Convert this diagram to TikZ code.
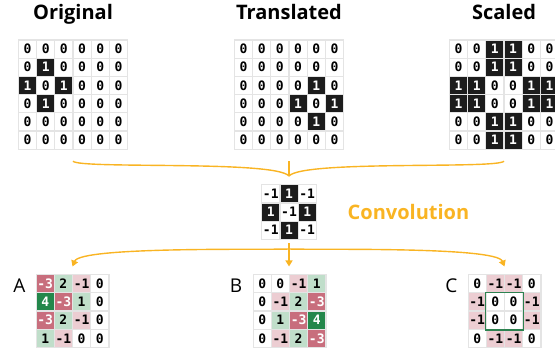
\documentclass[tikz,border=0pt]{standalone}
\usepackage{fontspec}
\setmainfont{Open Sans}
\newfontfamily\digitfont{DejaVu Sans Mono}
\usepackage{tikz}
\usetikzlibrary{matrix,positioning,arrows.meta}
\usepackage{xcolor}
\definecolor{gridgray}{RGB}{228,228,228}
\definecolor{cellblack}{RGB}{28,28,28}
\definecolor{convorange}{RGB}{249,180,35}
\definecolor{negdark}{RGB}{200,110,125}
\definecolor{neglight}{RGB}{236,205,210}
\definecolor{poslight}{RGB}{192,222,202}
\definecolor{posdark}{RGB}{35,135,75}
\definecolor{boxgreen}{RGB}{45,130,80}

\begin{document}
\begin{tikzpicture}[x=1pt,y=-1pt,
    grid/.style={matrix of nodes,ampersand replacement=\&,
      column sep=-1.2pt,row sep=-1.2pt,
      nodes={draw=gridgray,line width=1.2pt,minimum size=18.2pt,inner sep=0pt,
        font=\digitfont\bfseries\fontsize{13}{13}\selectfont,anchor=center}},
    on/.style={fill=cellblack,text=white},
    nd/.style={fill=negdark,text=white},
    nl/.style={fill=neglight},
    pl/.style={fill=poslight},
    pd/.style={fill=posdark,text=white},
    title/.style={font=\bfseries\fontsize{20}{24}\selectfont,inner sep=0pt},
    letter/.style={font=\fontsize{19}{22}\selectfont,inner sep=0pt},
    flow/.style={draw=convorange,line width=1.4pt},
    flowarrow/.style={flow,-{Triangle[length=6pt,width=7pt]}}]
  \useasboundingbox (0,0) rectangle (555,351);

  % inputs
  \matrix (orig) [grid] at (73,94.5) {
    0 \& 0 \& 0 \& 0 \& 0 \& 0 \\
    0 \& |[on]| 1 \& 0 \& 0 \& 0 \& 0 \\
    |[on]| 1 \& 0 \& |[on]| 1 \& 0 \& 0 \& 0 \\
    0 \& |[on]| 1 \& 0 \& 0 \& 0 \& 0 \\
    0 \& 0 \& 0 \& 0 \& 0 \& 0 \\
    0 \& 0 \& 0 \& 0 \& 0 \& 0 \\
  };
  \matrix (trans) [grid] at (289,94.5) {
    0 \& 0 \& 0 \& 0 \& 0 \& 0 \\
    0 \& 0 \& 0 \& 0 \& 0 \& 0 \\
    0 \& 0 \& 0 \& 0 \& |[on]| 1 \& 0 \\
    0 \& 0 \& 0 \& |[on]| 1 \& 0 \& |[on]| 1 \\
    0 \& 0 \& 0 \& 0 \& |[on]| 1 \& 0 \\
    0 \& 0 \& 0 \& 0 \& 0 \& 0 \\
  };
  \matrix (scal) [grid] at (504,94.5) {
    0 \& 0 \& |[on]| 1 \& |[on]| 1 \& 0 \& 0 \\
    0 \& 0 \& |[on]| 1 \& |[on]| 1 \& 0 \& 0 \\
    |[on]| 1 \& |[on]| 1 \& 0 \& 0 \& |[on]| 1 \& |[on]| 1 \\
    |[on]| 1 \& |[on]| 1 \& 0 \& 0 \& |[on]| 1 \& |[on]| 1 \\
    0 \& 0 \& |[on]| 1 \& |[on]| 1 \& 0 \& 0 \\
    0 \& 0 \& |[on]| 1 \& |[on]| 1 \& 0 \& 0 \\
  };
  \node[title,above=16pt of orig,anchor=base] {Original};
  \node[title,above=16pt of trans,anchor=base] {Translated};
  \node[title,above=16pt of scal,anchor=base] {Scaled};

  % kernel
  \matrix (kern) [grid] at (289,212) {
    -1 \& |[on]| 1 \& -1 \\
    |[on]| 1 \& -1 \& |[on]| 1 \\
    -1 \& |[on]| 1 \& -1 \\
  };
  \node[title,text=convorange,right=27pt of kern] (conv) {Convolution};

  % results
  \matrix (resA) [grid] at (72.5,311) {
    |[nd]| -3 \& |[pl]| 2 \& |[nl]| -1 \& 0 \\
    |[pd]| 4 \& |[nd]| -3 \& |[pl]| 1 \& 0 \\
    |[nd]| -3 \& |[pl]| 2 \& |[nl]| -1 \& 0 \\
    |[pl]| 1 \& |[nl]| -1 \& 0 \& 0 \\
  };
  \matrix (resB) [grid] at (289.5,311) {
    0 \& 0 \& |[nl]| -1 \& |[pl]| 1 \\
    0 \& |[nl]| -1 \& |[pl]| 2 \& |[nd]| -3 \\
    0 \& |[pl]| 1 \& |[nd]| -3 \& |[pd]| 4 \\
    0 \& |[nl]| -1 \& |[pl]| 2 \& |[nd]| -3 \\
  };
  \matrix (resC) [grid] at (504.5,311) {
    0 \& |[nl]| -1 \& |[nl]| -1 \& 0 \\
    |[nl]| -1 \& 0 \& 0 \& |[nl]| -1 \\
    |[nl]| -1 \& 0 \& 0 \& |[nl]| -1 \\
    0 \& |[nl]| -1 \& |[nl]| -1 \& 0 \\
  };
  \draw[boxgreen,line width=1.4pt] (resC-2-2.north west) rectangle (resC-3-3.south east);
  \node[letter,left=10pt of resA-1-1,yshift=-2pt] {A};
  \node[letter,left=10pt of resB-1-1,yshift=-2pt] {B};
  \node[letter,left=10pt of resC-1-1,yshift=-2pt] {C};

  % connectors
  \coordinate (merge) at (289,176);
  \coordinate (split) at (289,249);
  \draw[flow] ([yshift=-8pt]orig.south) .. controls +(8,8) and +(-14,-16) .. (merge);
  \draw[flow] ([yshift=-8pt]scal.south) .. controls +(-8,8) and +(14,-16) .. (merge);
  \draw[flow] ([yshift=-8pt]trans.south) -- (merge);
  \draw[flowarrow] (kern.south) -- ([yshift=4pt]kern.south |- resB.north);
  \draw[flowarrow] (split) .. controls +(-30,1) and +(8,-20) .. ([yshift=4pt]resA.north);
  \draw[flowarrow] (split) .. controls +(30,1) and +(-8,-20) .. ([yshift=4pt]resC.north);
\end{tikzpicture}
\end{document}
